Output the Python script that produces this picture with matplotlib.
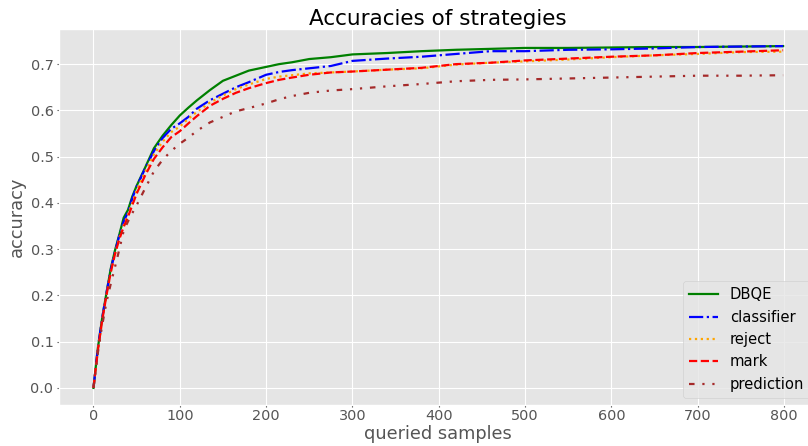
import matplotlib
matplotlib.use("Agg")
import matplotlib.pyplot as plt

plt.style.use("ggplot")
plt.rcParams["font.size"] = 10.6
plt.rcParams["lines.linewidth"] = 1.6
plt.rcParams["xtick.major.size"] = 1.6
plt.rcParams["ytick.major.size"] = 1.6
plt.rcParams["xtick.major.pad"] = 1.6
plt.rcParams["ytick.major.pad"] = 2.4

queried = [0, 5, 10, 15, 20, 25, 30, 35, 40, 45, 50, 60, 70, 80, 90, 100, 110, 120, 135,
           150, 165, 180, 200, 215, 230, 250, 275, 300, 340, 380, 420, 460, 500, 550,
           600, 650, 700, 750, 799]

dbqe = [0.0, 0.085, 0.15, 0.205, 0.258, 0.298, 0.332, 0.368, 0.385, 0.414, 0.437, 0.477,
        0.518, 0.545, 0.568, 0.589, 0.606, 0.622, 0.644, 0.664, 0.675, 0.686, 0.694, 0.700,
        0.704, 0.711, 0.715, 0.721, 0.724, 0.728, 0.731, 0.733, 0.735, 0.735, 0.736, 0.737,
        0.737, 0.738, 0.739]

classifier = [0.0, 0.085, 0.15, 0.205, 0.255, 0.295, 0.33, 0.36, 0.38, 0.41, 0.435, 0.475,
              0.512, 0.54, 0.56, 0.572, 0.586, 0.604, 0.622, 0.636, 0.650, 0.661, 0.677,
              0.683, 0.687, 0.691, 0.696, 0.707, 0.712, 0.716, 0.722, 0.728, 0.728, 0.731,
              0.732, 0.734, 0.737, 0.738, 0.739]

reject = [0.0, 0.08, 0.145, 0.2, 0.25, 0.29, 0.325, 0.352, 0.375, 0.40, 0.428, 0.468,
          0.505, 0.532, 0.553, 0.565, 0.582, 0.597, 0.617, 0.632, 0.646, 0.656, 0.668,
          0.673, 0.676, 0.680, 0.682, 0.684, 0.688, 0.691, 0.699, 0.703, 0.706, 0.710,
          0.715, 0.719, 0.722, 0.726, 0.727]

mark = [0.0, 0.08, 0.145, 0.2, 0.25, 0.29, 0.322, 0.348, 0.37, 0.395, 0.42, 0.46, 0.495,
        0.52, 0.542, 0.555, 0.572, 0.588, 0.610, 0.625, 0.638, 0.648, 0.659, 0.666, 0.671,
        0.677, 0.682, 0.684, 0.688, 0.692, 0.700, 0.703, 0.708, 0.712, 0.716, 0.719,
        0.724, 0.727, 0.730]

prediction = [0.0, 0.075, 0.135, 0.185, 0.225, 0.262, 0.30, 0.34, 0.36, 0.378, 0.395,
              0.432, 0.468, 0.493, 0.512, 0.528, 0.541, 0.556, 0.574, 0.586, 0.598, 0.605,
              0.615, 0.624, 0.631, 0.638, 0.643, 0.646, 0.652, 0.657, 0.663, 0.666, 0.667,
              0.669, 0.671, 0.673, 0.675, 0.675, 0.676]

fig = plt.figure(figsize=(8.08, 4.46), dpi=100)
ax = fig.add_axes([59 / 808, 41 / 446, (817.6 - 59) / 808, (405 - 29) / 446])

ax.plot(queried, dbqe, color="green", linestyle="-", label="DBQE")
ax.plot(queried, classifier, color="blue", linestyle="-.", label="classifier")
ax.plot(queried, reject, color="orange", linestyle=":", label="reject")
ax.plot(queried, mark, color="red", linestyle="--", label="mark")
ax.plot(queried, prediction, color="brown", linestyle=(0, (2.5, 3.5, 1, 3.5, 1, 3.5)),
        label="prediction")

ax.set_title("Accuracies of strategies", fontsize=15.5, pad=1)
ax.set_xlabel("queried samples", fontsize=12.8, labelpad=1)
ax.set_ylabel("accuracy", fontsize=12.8, labelpad=3)
ax.set_xticks(range(0, 801, 100))
ax.set_yticks([0.0, 0.1, 0.2, 0.3, 0.4, 0.5, 0.6, 0.7])
ax.tick_params(labelsize=10.4)
ax.legend(loc="lower right", fontsize=10.6)

fig.savefig("out.png", dpi=100)
